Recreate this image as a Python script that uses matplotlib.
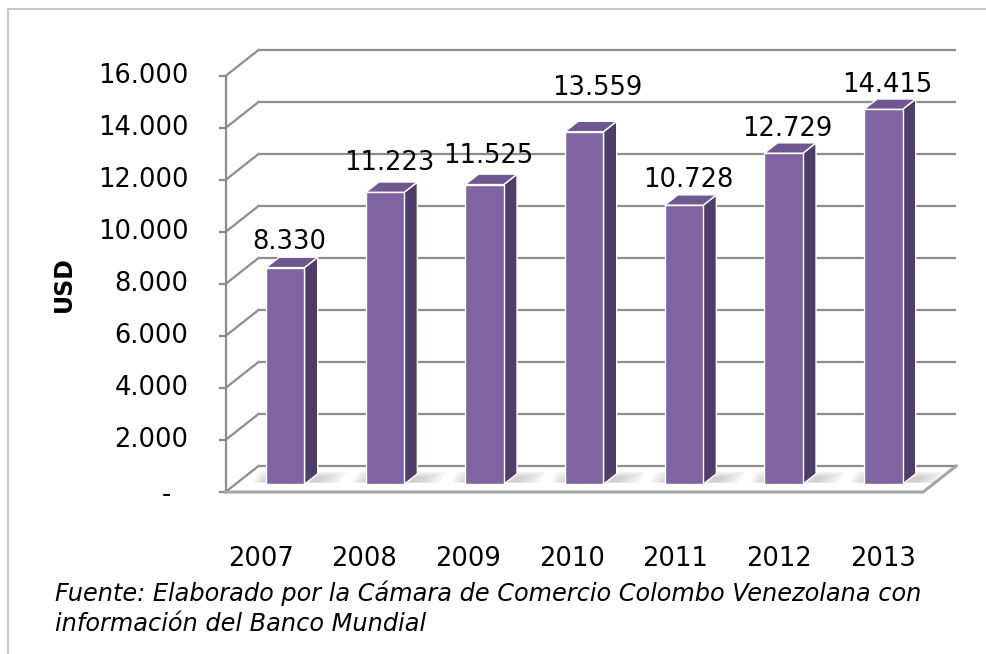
import matplotlib
matplotlib.use("Agg")
import matplotlib.pyplot as plt
from matplotlib.patches import Polygon
from matplotlib.lines import Line2D

# ---------------- data ----------------
years = ["2007", "2008", "2009", "2010", "2011", "2012", "2013"]
values = [8330, 11223, 11525, 13559, 10728, 12729, 14415]
value_labels = ["8.330", "11.223", "11.525", "13.559", "10.728", "12.729", "14.415"]
tick_values = [0, 2000, 4000, 6000, 8000, 10000, 12000, 14000, 16000]
tick_labels = ["-", "2.000", "4.000", "6.000", "8.000", "10.000", "12.000", "14.000", "16.000"]
y_title = "USD"
source_note = ("Fuente: Elaborado por la Cámara de Comercio Colombo Venezolana con\n"
               "información del Banco Mundial")

# ---------------- layout (pixels) ----------------
W, H = 986, 654
PX_CAT = 99.67            # px per category
PX_UNIT = 52.0 / 2000     # px per value unit
AXIS_X_PX = 225.5         # front axis (x = -0.5)
ZERO_Y_PX = 492           # zero line on front plane (from top)
DEPTH_PX = (33, 26)       # full depth of the 3D box (right, up)
BAR_D0, BAR_DD = 0.3, 0.4 # bar depth start and thickness (fraction)
BAR_W = 38.5 / PX_CAT
label_lift_px = [8, 12, 11, 26, 8, 7, 7]
label_shift_px = [4, 4, 4, 13, 4, 4, 4]

FRONT = "#8064A2"
SIDE = "#4F3D69"
TOP = "#71578F"
GRID = "#8C8C8C"
FLOOR = "#A6A6A6"

fig = plt.figure(figsize=(W / 100, H / 100), dpi=100)
fig.patch.set_facecolor("white")
ax = fig.add_axes([0, 0, 1, 1])
ax.set_xlim(-0.5 - AXIS_X_PX / PX_CAT, -0.5 + (W - AXIS_X_PX) / PX_CAT)
ax.set_ylim((ZERO_Y_PX - H) / PX_UNIT, ZERO_Y_PX / PX_UNIT)
ax.axis("off")

DX = DEPTH_PX[0] / PX_CAT
DY = DEPTH_PX[1] / PX_UNIT
px_x = 1.0 / PX_CAT
px_y = 1.0 / PX_UNIT
n = len(values)
xa, xe = -0.5, n - 0.5
ymax = tick_values[-1]

# outer frame
fig.add_artist(Line2D([8 / W, 8 / W], [0, 1 - 9 / H], transform=fig.transFigure,
                      color="#C0C0C0", lw=1.3))
fig.add_artist(Line2D([8 / W, 1.01], [1 - 9 / H, 1 - 9 / H], transform=fig.transFigure,
                      color="#C0C0C0", lw=1.3))

# back wall gridlines, side wall diagonals, tick marks
for tv, tl in zip(tick_values, tick_labels):
    ax.plot([xa + DX, xe + DX], [tv + DY, tv + DY], color=GRID, lw=1.6,
            zorder=1, solid_capstyle="butt")
    ax.plot([xa, xa + DX], [tv, tv + DY], color=GRID, lw=1.6, zorder=1)
    ax.plot([xa - 6 * px_x, xa], [tv, tv], color=GRID, lw=1.6, zorder=1)
    if tl == "-":
        ax.text(xa - 59 * px_x, tv - 3 * px_y, tl, ha="center", va="center",
                fontsize=18.5, color="black")
    else:
        ax.text(xa - 37 * px_x, tv, tl, ha="right", va="center",
                fontsize=18.5, color="black")

# front axis line
ax.plot([xa, xa], [0, ymax], color=GRID, lw=1.6, zorder=2)
# floor outline
ax.plot([xa, xe, xe + DX], [0, 0, DY], color=FLOOR, lw=2.2, zorder=2,
        solid_joinstyle="miter")

# bars
for i, (v, lab) in enumerate(zip(values, value_labels)):
    xl = i + BAR_D0 * DX - BAR_W / 2
    xr = xl + BAR_W
    b = BAR_D0 * DY
    top = v + b
    ddx, ddy = BAR_DD * DX, BAR_DD * DY
    # soft floor shadow behind each bar
    for k in range(5):
        g = k * 3.0
        x0 = xl - (14 - g) * px_x
        x1 = xr + ddx + (22 - g * 1.6) * px_x
        y0 = b + ddy * 0.15
        y1 = b + ddy * (1.2 - 0.12 * k)
        poly = [(x0, y0), (x1, y0), (x1 + 0.2 * DX, y1), (x0 + 0.2 * DX, y1)]
        ax.add_patch(Polygon(poly, closed=True, facecolor="#707070", edgecolor="none",
                             alpha=0.07, zorder=2.5))
    ax.bar(i + BAR_D0 * DX, v, width=BAR_W, bottom=b, color=FRONT,
           edgecolor="white", linewidth=1.0, zorder=4)
    side = [(xr, b), (xr + ddx, b + ddy), (xr + ddx, top + ddy), (xr, top)]
    ax.add_patch(Polygon(side, closed=True, facecolor=SIDE, edgecolor="white",
                         linewidth=1.0, zorder=3.9))
    topf = [(xl, top), (xr, top), (xr + ddx, top + ddy), (xl + ddx, top + ddy)]
    ax.add_patch(Polygon(topf, closed=True, facecolor=TOP, edgecolor="white",
                         linewidth=1.0, zorder=3.9))
    ax.text(i + BAR_D0 * DX + label_shift_px[i] * px_x,
            top + ddy + label_lift_px[i] * px_y, lab,
            ha="center", va="baseline", fontsize=18.5, color="black", zorder=5)

# category labels
for i, yr in enumerate(years):
    xp = 260.7 + i * 103.7
    ax.text(xa + (xp - AXIS_X_PX) * px_x, (ZERO_Y_PX - 558.5) * px_y, yr,
            ha="center", va="center", fontsize=18.5, color="black")

# axis title
ax.text(xa + (64 - AXIS_X_PX) * px_x, (ZERO_Y_PX - 284) * px_y, y_title,
        rotation=90, ha="center", va="center", fontsize=17, fontweight="bold",
        color="black")

# source note
fig.text(55 / W, 1 - 580 / H, source_note, ha="left", va="top", fontsize=17.3,
         style="italic", color="black", linespacing=1.33)

fig.savefig("out.png", dpi=100, facecolor="white")
